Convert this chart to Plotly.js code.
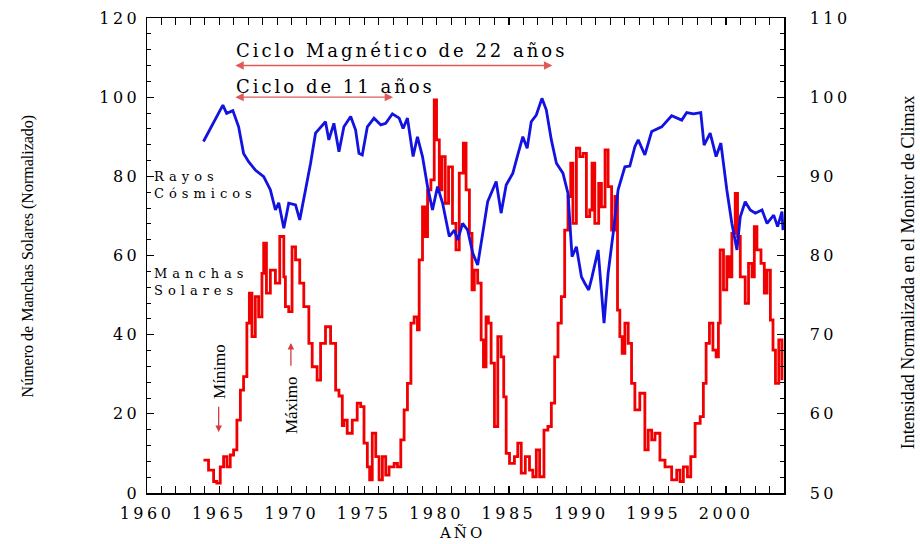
<!DOCTYPE html>
<html>
<head>
<meta charset="utf-8">
<script src="https://cdn.plot.ly/plotly-3.0.1.min.js"></script>
<style>
  html, body { margin: 0; padding: 0; background: #fff; }
  #chart { width: 920px; height: 544px; }
  .xtick text, .ytick text, .y2tick text { letter-spacing: 3.5px; }
</style>
</head>
<body>
<div id="chart"></div>
<script>
// Sunspot number (normalised, left axis), decimal years
const sunYears = [
  1963.90, 1964.25, 1964.60, 1964.82, 1965.06, 1965.29, 1965.52, 1965.75, 1965.98, 1966.21,
  1966.45, 1966.67, 1966.90, 1967.07, 1967.25, 1967.48, 1967.71, 1967.94, 1968.06, 1968.25,
  1968.52, 1968.87, 1969.17, 1969.45, 1969.56, 1969.79, 1970.02, 1970.26, 1970.55, 1970.83,
  1971.18, 1971.41, 1971.75, 1971.99, 1972.33, 1972.68, 1973.03, 1973.26, 1973.49, 1973.60,
  1973.83, 1974.18, 1974.52, 1974.76, 1974.99, 1975.22, 1975.38, 1975.56, 1975.80, 1976.03,
  1976.26, 1976.49, 1976.72, 1977.07, 1977.30, 1977.53, 1977.76, 1977.99, 1978.23, 1978.45,
  1978.68, 1978.80, 1979.03, 1979.22, 1979.38, 1979.61, 1979.84, 1980.00, 1980.19, 1980.37,
  1980.60, 1980.83, 1981.10, 1981.34, 1981.57, 1981.85, 1982.04, 1982.27, 1982.45, 1982.61,
  1982.84, 1983.08, 1983.24, 1983.42, 1983.58, 1983.77, 1984.00, 1984.23, 1984.46, 1984.64,
  1984.81, 1985.04, 1985.38, 1985.61, 1985.85, 1986.13, 1986.42, 1986.65, 1986.89, 1987.12,
  1987.42, 1987.69, 1987.93, 1988.16, 1988.39, 1988.62, 1988.85, 1989.08, 1989.27, 1989.42,
  1989.66, 1989.89, 1990.12, 1990.35, 1990.58, 1990.74, 1990.93, 1991.20, 1991.39, 1991.64,
  1991.85, 1992.09, 1992.32, 1992.50, 1992.66, 1992.82, 1993.01, 1993.24, 1993.47, 1993.70,
  1994.04, 1994.39, 1994.62, 1994.86, 1995.09, 1995.43, 1995.78, 1996.24, 1996.59, 1996.82,
  1997.05, 1997.33, 1997.56, 1997.86, 1998.21, 1998.43, 1998.62, 1998.85, 1999.09, 1999.31,
  1999.47, 1999.59, 1999.82, 2000.05, 2000.24, 2000.40, 2000.63, 2000.79, 2000.98, 2001.32,
  2001.55, 2001.79, 2001.95, 2002.13, 2002.41, 2002.64, 2002.83, 2003.06, 2003.24, 2003.41,
  2003.64, 2003.86
];
const sunspots = [
  8.3, 5.8, 2.9, 2.5, 6.6, 9.2, 6.6, 9.6, 10.9, 18.4,
  26.0, 29.4, 42.9, 50.5, 39.5, 49.6, 44.5, 55.5, 63.1, 50.5,
  56.3, 53.0, 64.8, 54.6, 47.1, 45.8, 62.2, 58.9, 53.0, 47.1,
  37.8, 31.9, 28.5, 37.8, 42.0, 37.8, 26.0, 24.5, 17.0, 18.4,
  15.1, 18.4, 22.7, 21.8, 12.6, 6.6, 3.3, 15.1, 9.2, 3.3,
  9.2, 4.5, 6.6, 7.5, 6.6, 13.4, 21.0, 27.7, 42.9, 44.5,
  41.2, 58.9, 72.3, 64.8, 76.6, 79.1, 99.3, 89.2, 76.6, 85.0,
  73.2, 82.4, 68.1, 61.4, 80.8, 88.4, 76.6, 65.6, 51.3, 56.3,
  53.0, 38.7, 31.9, 44.5, 42.9, 32.8, 16.8, 39.5, 34.4, 24.3,
  10.0, 7.5, 9.2, 12.6, 5.0, 9.2, 5.8, 4.1, 10.9, 4.1,
  15.9, 16.8, 22.7, 34.4, 42.9, 49.6, 66.4, 74.9, 83.3, 68.1,
  87.1, 85.0, 85.8, 69.8, 71.5, 83.3, 68.1, 78.2, 72.3, 86.7,
  77.4, 66.4, 74.9, 46.2, 39.5, 35.3, 42.9, 37.8, 27.7, 21.0,
  25.2, 10.9, 15.9, 13.4, 15.1, 8.3, 6.6, 3.3, 5.8, 2.9,
  6.6, 4.1, 9.2, 17.6, 19.3, 27.7, 37.8, 42.9, 36.1, 34.4,
  42.9, 61.4, 51.3, 59.7, 54.6, 65.6, 75.7, 64.8, 54.6, 47.9,
  58.0, 54.6, 67.3, 61.4, 58.0, 50.5, 56.3, 43.7, 36.1, 27.7,
  38.7, 28.5
];

// Climax neutron monitor intensity (normalised, right axis), decimal years
const rayYears = [
  1963.90, 1964.60, 1965.24, 1965.50, 1965.93, 1966.33, 1966.67, 1967.02, 1967.48, 1968.06,
  1968.52, 1968.87, 1969.10, 1969.45, 1969.79, 1970.26, 1970.55, 1970.95, 1971.30, 1971.64,
  1971.99, 1972.33, 1972.56, 1972.91, 1973.26, 1973.60, 1974.07, 1974.41, 1974.64, 1974.87,
  1975.22, 1975.68, 1976.15, 1976.49, 1976.95, 1977.42, 1977.69, 1977.99, 1978.38, 1978.68,
  1979.03, 1979.38, 1979.72, 1980.07, 1980.42, 1980.88, 1981.23, 1981.46, 1981.80, 1982.15,
  1982.50, 1982.84, 1983.19, 1983.53, 1984.12, 1984.46, 1984.81, 1985.27, 1985.61, 1985.96,
  1986.26, 1986.54, 1986.89, 1987.28, 1987.58, 1987.93, 1988.28, 1988.73, 1989.08, 1989.36,
  1989.66, 1990.01, 1990.24, 1990.51, 1990.74, 1991.16, 1991.57, 1991.85, 1992.20, 1992.54,
  1993.01, 1993.35, 1993.70, 1993.93, 1994.39, 1994.86, 1995.55, 1996.24, 1996.94, 1997.28,
  1997.74, 1998.25, 1998.48, 1998.90, 1999.31, 1999.64, 2000.05, 2000.40, 2000.75, 2000.98,
  2001.32, 2001.67, 2002.02, 2002.48, 2002.83, 2003.29, 2003.56, 2003.86, 2003.93
];
const cosmicRays = [
  94.40, 96.75, 99.00, 97.95, 98.30, 96.25, 92.90, 91.85, 90.80, 89.95,
  88.30, 85.75, 86.65, 83.45, 86.60, 86.40, 84.50, 88.30, 91.65, 95.45,
  96.25, 96.90, 94.60, 96.70, 93.10, 96.25, 97.55, 95.85, 92.90, 92.70,
  96.25, 97.35, 96.50, 96.70, 97.90, 97.35, 96.05, 97.35, 92.50, 95.00,
  92.50, 88.70, 85.75, 88.70, 86.60, 82.40, 83.20, 81.95, 84.05, 83.20,
  80.30, 78.80, 82.80, 86.80, 89.35, 85.35, 88.90, 90.40, 92.70, 95.00,
  93.55, 96.90, 97.75, 99.85, 98.40, 94.60, 91.65, 90.40, 87.85, 79.85,
  81.10, 77.30, 76.50, 75.65, 77.30, 80.70, 71.45, 77.75, 82.80, 88.30,
  91.20, 91.30, 93.75, 94.60, 92.70, 95.65, 96.25, 97.65, 97.10, 98.05,
  97.90, 98.05, 93.95, 95.45, 92.50, 94.20, 88.30, 84.05, 80.70, 84.90,
  86.80, 85.75, 85.35, 85.75, 84.05, 85.10, 83.65, 85.55, 83.20
];

// Cycle spans and marker positions (years)
const magneticCycle = [1966, 1988];
const solarCycle = [1966, 1977];
const minimumYear = 1964.95;
const maximumYear = 1969.94;

const serifWide = 'DejaVu Serif, serif';
const serifTimes = 'Liberation Serif, Times New Roman, serif';
const spaced = (s, px) => '<span style="letter-spacing:' + px + 'px">' + s + '</span>';

const traces = [
  {
    x: rayYears, y: cosmicRays, yaxis: 'y2', type: 'scatter', mode: 'lines',
    line: { color: 'rgb(18,18,225)', width: 2.8 }, hoverinfo: 'skip'
  },
  {
    x: sunYears, y: sunspots, yaxis: 'y', type: 'scatter', mode: 'lines',
    line: { color: 'rgb(240,0,0)', width: 2.8, shape: 'hv' }, hoverinfo: 'skip'
  }
];

const axisCommon = {
  showline: true, linecolor: '#000', linewidth: 1.5,
  showgrid: false, zeroline: false,
  ticks: 'inside', ticklen: 7, tickwidth: 1.2, tickcolor: '#000',
  tickfont: { family: serifWide, size: 16, color: '#000' }
};

const annotations = [
  // cycle arrows
  {
    x: magneticCycle[1], y: 108, ax: magneticCycle[0], ay: 108, xref: 'x', yref: 'y', axref: 'x', ayref: 'y',
    text: '', showarrow: true, arrowside: 'end+start', arrowhead: 2, startarrowhead: 2,
    arrowsize: 1.2, startarrowsize: 1.2, arrowwidth: 1.4, arrowcolor: 'rgb(225,90,90)'
  },
  {
    x: solarCycle[1], y: 100, ax: solarCycle[0], ay: 100, xref: 'x', yref: 'y', axref: 'x', ayref: 'y',
    text: '', showarrow: true, arrowside: 'end+start', arrowhead: 2, startarrowhead: 2,
    arrowsize: 1.2, startarrowsize: 1.2, arrowwidth: 1.4, arrowcolor: 'rgb(225,90,90)'
  },
  {
    x: magneticCycle[0], y: 111.9, xref: 'x', yref: 'y', xanchor: 'left', yanchor: 'middle', showarrow: false,
    text: spaced('Ciclo Magnético de 22 años', 3), font: { family: serifWide, size: 18, color: '#000' }
  },
  {
    x: solarCycle[0], y: 102.8, xref: 'x', yref: 'y', xanchor: 'left', yanchor: 'middle', showarrow: false,
    text: spaced('Ciclo de 11 años', 3), font: { family: serifWide, size: 18, color: '#000' }
  },
  // series labels
  {
    x: 1960.44, y: 77.7, xref: 'x', yref: 'y', xanchor: 'left', yanchor: 'middle', align: 'left',
    showarrow: false, borderpad: 0,
    text: spaced('Rayos', 5) + '<br>' + spaced('Cósmicos', 5), font: { family: serifWide, size: 13, color: '#000' }
  },
  {
    x: 1960.44, y: 53.4, xref: 'x', yref: 'y', xanchor: 'left', yanchor: 'middle', align: 'left',
    showarrow: false, borderpad: 0,
    text: spaced('Manchas', 5) + '<br>' + spaced('Solares', 5), font: { family: serifWide, size: 13, color: '#000' }
  },
  // minimum / maximum markers
  {
    x: minimumYear + 0.1, y: 30.6, xref: 'x', yref: 'y', showarrow: false, textangle: -90,
    text: 'Mínimo', font: { family: serifTimes, size: 17, color: '#000' }
  },
  {
    x: minimumYear, y: 15.4, ax: minimumYear, ay: 22.2, xref: 'x', yref: 'y', axref: 'x', ayref: 'y',
    text: '', showarrow: true, arrowhead: 2, arrowsize: 1, arrowwidth: 1.3, arrowcolor: 'rgb(215,60,60)'
  },
  {
    x: maximumYear, y: 22.2, xref: 'x', yref: 'y', showarrow: false, textangle: -90,
    text: 'Máximo', font: { family: serifTimes, size: 17, color: '#000' }
  },
  {
    x: maximumYear, y: 37.9, ax: maximumYear, ay: 31.8, xref: 'x', yref: 'y', axref: 'x', ayref: 'y',
    text: '', showarrow: true, arrowhead: 2, arrowsize: 1, arrowwidth: 1.3, arrowcolor: 'rgb(215,60,60)'
  },
  // axis titles
  {
    x: -0.187, y: 0.5, xref: 'paper', yref: 'paper', xanchor: 'center', yanchor: 'middle',
    showarrow: false, textangle: -90,
    text: 'Número de Manchas Solares (Normalizado)', font: { family: serifTimes, size: 16, color: '#000' }
  },
  {
    x: 1.195, y: 0.465, xref: 'paper', yref: 'paper', xanchor: 'center', yanchor: 'middle',
    showarrow: false, textangle: -90,
    text: 'Intensidad Normalizada en el Monitor de Climax', font: { family: serifTimes, size: 18, color: '#000' }
  },
  {
    x: 0.4945, y: -0.084, xref: 'paper', yref: 'paper', xanchor: 'center', yanchor: 'middle', showarrow: false,
    text: spaced('AÑO', 3), font: { family: serifWide, size: 15, color: '#000' }
  }
];

const layout = {
  width: 920, height: 544,
  margin: { l: 147, r: 136, t: 18, b: 51 },
  paper_bgcolor: '#fff', plot_bgcolor: '#fff',
  showlegend: false,
  font: { family: serifWide, size: 15, color: '#000' },
  xaxis: Object.assign({}, axisCommon, {
    range: [1960, 2004], tick0: 1960, dtick: 5, mirror: 'allticks',
    minor: { dtick: 1, tick0: 1960, ticks: 'inside', ticklen: 4, tickcolor: '#000', tickwidth: 1 },
    ticklabelstandoff: 5
  }),
  yaxis: Object.assign({}, axisCommon, {
    range: [0, 120], tick0: 0, dtick: 20,
    minor: { dtick: 4, tick0: 0, ticks: 'inside', ticklen: 4, tickcolor: '#000', tickwidth: 1 },
    ticklabelstandoff: 2
  }),
  yaxis2: Object.assign({}, axisCommon, {
    overlaying: 'y', side: 'right', range: [50, 110], tick0: 50, dtick: 10,
    minor: { dtick: 2, tick0: 50, ticks: 'inside', ticklen: 4, tickcolor: '#000', tickwidth: 1 },
    ticklabelstandoff: 21
  }),
  annotations: annotations
};

Plotly.newPlot('chart', traces, layout, { displayModeBar: false, staticPlot: true });
</script>
</body>
</html>
